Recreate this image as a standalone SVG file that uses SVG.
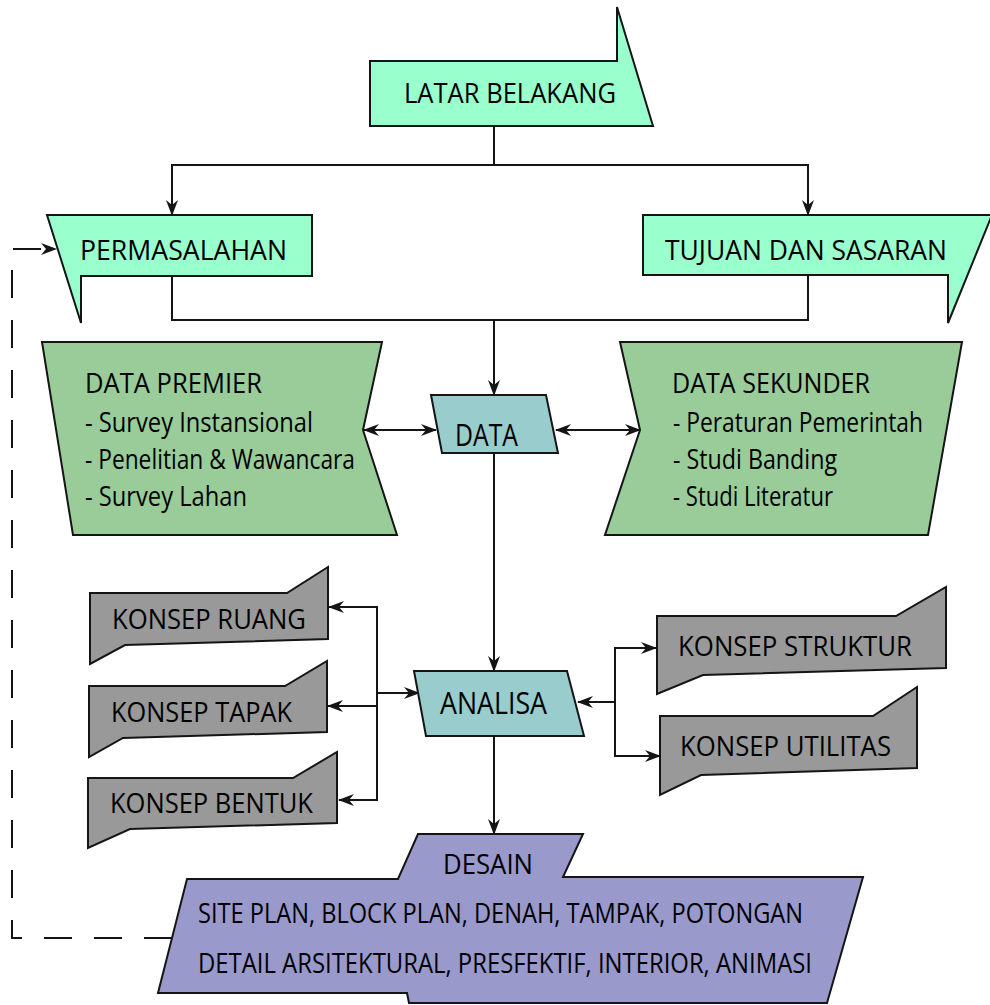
<svg xmlns="http://www.w3.org/2000/svg" width="990" height="1005" viewBox="0 0 990 1005">
<style>
.s{stroke:#151515;stroke-width:2;stroke-linejoin:miter}
.mint{fill:#99FFCC}
.grn{fill:#99CC99}
.teal{fill:#99CCCC}
.gray{fill:#999999}
.blue{fill:#9999CC}
text{font-family:"Open Sans","Noto Sans","Liberation Sans",sans-serif;fill:#000;font-size:28px}
.big{font-size:31px}
.c{fill:none;stroke:#151515;stroke-width:2}
.d{fill:none;stroke:#151515;stroke-width:2;stroke-dasharray:28 22}
</style>
<defs>
<marker id="ah" viewBox="0 0 16 12" refX="15" refY="6" markerWidth="16" markerHeight="12" markerUnits="userSpaceOnUse" orient="auto-start-reverse">
<path d="M0,0 L16,6 L0,12 L5,6 z" fill="#151515"/>
</marker>
</defs>
<g id="connectors">
<path class="c" d="M494,126 V165"/>
<path class="c" d="M172,215 V165 H808 V215" marker-start="url(#ah)" marker-end="url(#ah)"/>
<path class="c" d="M172,276 V320 H808 V275"/>
<path class="c" d="M494,320 V395" marker-end="url(#ah)"/>
<path class="c" d="M364,430 H436" marker-start="url(#ah)" marker-end="url(#ah)"/>
<path class="c" d="M556,430 H640" marker-start="url(#ah)" marker-end="url(#ah)"/>
<path class="c" d="M494,453 V671" marker-end="url(#ah)"/>
<path class="c" d="M329,607 H377 V800 H339" marker-start="url(#ah)" marker-end="url(#ah)"/>
<path class="c" d="M377,706 H328" marker-end="url(#ah)"/>
<path class="c" d="M377,693 H419" marker-end="url(#ah)"/>
<path class="c" d="M615,702 H578" marker-end="url(#ah)"/>
<path class="c" d="M656,648 H615 V756 H660" marker-start="url(#ah)" marker-end="url(#ah)"/>
<path class="c" d="M494,736 V834" marker-end="url(#ah)"/>
<path class="d" d="M172,938 H12 V249 H56" marker-end="url(#ah)"/>
</g>
<g id="latar-belakang">
<polygon class="s mint" points="370,61 617,61 617,7 653,126 370,126"/>
<text x="404" y="103" textLength="212" lengthAdjust="spacingAndGlyphs">LATAR BELAKANG</text>
</g>
<g id="permasalahan">
<polygon class="s mint" points="47,215 312,215 312,276 81,276 81,323"/>
<text x="80" y="260" textLength="207" lengthAdjust="spacingAndGlyphs">PERMASALAHAN</text>
</g>
<g id="tujuan">
<polygon class="s mint" points="643,215 992,215 948,323 948,275 643,275"/>
<text x="665" y="260" textLength="282" lengthAdjust="spacingAndGlyphs">TUJUAN DAN SASARAN</text>
</g>
<g id="data-premier">
<polygon class="s grn" points="42,342 382,342 363,430 397,535 73,535"/>
<text x="85" y="393" textLength="177" lengthAdjust="spacingAndGlyphs">DATA PREMIER</text>
<text x="85" y="432" textLength="228" lengthAdjust="spacingAndGlyphs">- Survey Instansional</text>
<text x="85" y="469" textLength="270" lengthAdjust="spacingAndGlyphs">- Penelitian &amp; Wawancara</text>
<text x="85" y="506" textLength="162" lengthAdjust="spacingAndGlyphs">- Survey Lahan</text>
</g>
<g id="data">
<polygon class="s teal" points="431,395 546,395 558,453 442,453"/>
<text class="big" x="455" y="446" textLength="63" lengthAdjust="spacingAndGlyphs">DATA</text>
</g>
<g id="data-sekunder">
<polygon class="s grn" points="620,342 962,342 928,535 605,535 640,430"/>
<text x="672" y="393" textLength="198" lengthAdjust="spacingAndGlyphs">DATA SEKUNDER</text>
<text x="673" y="432" textLength="250" lengthAdjust="spacingAndGlyphs">- Peraturan Pemerintah</text>
<text x="673" y="469" textLength="164" lengthAdjust="spacingAndGlyphs">- Studi Banding</text>
<text x="673" y="506" textLength="160" lengthAdjust="spacingAndGlyphs">- Studi Literatur</text>
</g>
<g id="analisa">
<polygon class="s teal" points="414,671 567,671 584,736 426,736"/>
<text class="big" x="440" y="714" textLength="107" lengthAdjust="spacingAndGlyphs">ANALISA</text>
</g>
<g id="konsep-ruang">
<polygon class="s gray" points="90,593 287,593 328,567 328,639 125,645 90,664"/>
<text x="112" y="629" textLength="194" lengthAdjust="spacingAndGlyphs">KONSEP RUANG</text>
</g>
<g id="konsep-tapak">
<polygon class="s gray" points="89,686 285,686 327,661 327,732 123,738 89,757"/>
<text x="111" y="722" textLength="181" lengthAdjust="spacingAndGlyphs">KONSEP TAPAK</text>
</g>
<g id="konsep-bentuk">
<polygon class="s gray" points="88,778 293,778 337,752 337,823 130,829 88,848"/>
<text x="110" y="813" textLength="203" lengthAdjust="spacingAndGlyphs">KONSEP BENTUK</text>
</g>
<g id="konsep-struktur">
<polygon class="s gray" points="657,616 896,616 946,587 946,668 703,675 657,694"/>
<text x="678" y="656" textLength="234" lengthAdjust="spacingAndGlyphs">KONSEP STRUKTUR</text>
</g>
<g id="konsep-utilitas">
<polygon class="s gray" points="660,716 873,716 917,687 917,768 701,775 660,795"/>
<text x="680" y="756" textLength="211" lengthAdjust="spacingAndGlyphs">KONSEP UTILITAS</text>
</g>
<g id="desain">
<polygon class="s blue" points="418,834 583,834 563,877 863,877 827,1003 409,1003 407,993 158,993 187,879 398,879"/>
<text x="443" y="874" textLength="90" lengthAdjust="spacingAndGlyphs">DESAIN</text>
<text x="198" y="923" textLength="605" lengthAdjust="spacingAndGlyphs">SITE PLAN, BLOCK PLAN, DENAH, TAMPAK, POTONGAN</text>
<text x="198" y="973" textLength="614" lengthAdjust="spacingAndGlyphs">DETAIL ARSITEKTURAL, PRESFEKTIF, INTERIOR, ANIMASI</text>
</g>
</svg>
